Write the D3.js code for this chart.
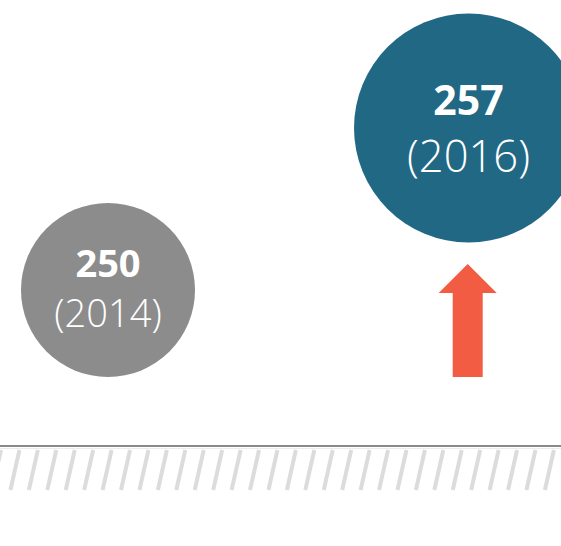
<!DOCTYPE html>
<html>
<head>
<meta charset="utf-8">
<script src="https://cdn.jsdelivr.net/npm/d3@7"></script>
<style>
  html, body { margin: 0; padding: 0; background: #fff; }
  svg { display: block; }
</style>
</head>
<body>
<svg id="chart" width="561" height="546"></svg>
<script>
// chart data
var years = [2014, 2016];
var values = [250, 257];
var colors = ["#8c8c8c", "#216885"];

var svg = d3.select("#chart");
const width = +svg.attr("width"),
      height = +svg.attr("height");

// scales: year -> x, value -> y / radius
var x = d3.scaleLinear().domain([2014, 2016]).range([108, 468.5]);
var y = d3.scaleLinear().domain([250, 257]).range([290, 128]);
var r = d3.scaleLinear().domain([250, 257]).range([87, 114.5]);
var valueFont = d3.scaleLinear().domain([87, 114.5]).range([38, 41]);
var yearFont = d3.scaleLinear().domain([87, 114.5]).range([38, 43.5]);

var data = years.map(function(yr, i) {
    return {year: yr, value: values[i], color: colors[i]};
});

// hatched strip under the baseline
var stripe = 18.43, stripeTop = 450, stripeBottom = 490, lean = 9;
var stripeXs = d3.range(-stripe, width + stripe, stripe);
svg.append("g")
    .selectAll("line")
    .data(stripeXs)
    .enter().append("line")
    .attr("x1", function(d) { return d + 1; })
    .attr("y1", stripeTop)
    .attr("x2", function(d) { return d + 1 - lean; })
    .attr("y2", stripeBottom)
    .attr("stroke", "#dcdcdc")
    .attr("stroke-width", 4);

// baseline
svg.append("line")
    .attr("x1", 0).attr("x2", width)
    .attr("y1", 446).attr("y2", 446)
    .attr("stroke", "#8a8a8a")
    .attr("stroke-width", 2);
svg.append("line")
    .attr("x1", 0).attr("x2", width)
    .attr("y1", 448.5).attr("y2", 448.5)
    .attr("stroke", "#ececec")
    .attr("stroke-width", 1);

// bubbles
var node = svg.append("g")
    .selectAll("g")
    .data(data)
    .enter().append("g")
    .attr("transform", function(d) {
        return "translate(" + x(d.year) + "," + y(d.value) + ")";
    });

node.append("circle")
    .attr("r", function(d) { return r(d.value); })
    .attr("fill", function(d) { return d.color; });

node.append("text")
    .text(function(d) { return d.value; })
    .attr("text-anchor", "middle")
    .attr("y", -13)
    .style("font-family", "'Open Sans', sans-serif")
    .style("font-weight", 700)
    .style("font-size", function(d) { return valueFont(r(d.value)) + "px"; })
    .attr("fill", "#fff");

node.append("text")
    .text(function(d) { return "(" + d.year + ")"; })
    .attr("text-anchor", "middle")
    .attr("y", function(d) { return 0.25 * r(d.value) + 15.2; })
    .style("font-family", "'Open Sans', sans-serif")
    .style("font-weight", 300)
    .style("font-size", function(d) { return yearFont(r(d.value)) + "px"; })
    .attr("fill", "#fff");

// up arrow under the latest bubble
var last = data[data.length - 1];
var ax = x(last.year) - 0.8,
    tip = 264, bottom = y(values[0]) + r(values[0]),
    headW = 29, headH = 29, shaftW = 15;
var arrow = [
    [ax, tip], [ax + headW, tip + headH], [ax + shaftW, tip + headH],
    [ax + shaftW, bottom], [ax - shaftW, bottom], [ax - shaftW, tip + headH],
    [ax - headW, tip + headH]
];
svg.append("path")
    .attr("d", d3.line()(arrow) + "Z")
    .attr("fill", "#f15c43");
</script>
</body>
</html>
